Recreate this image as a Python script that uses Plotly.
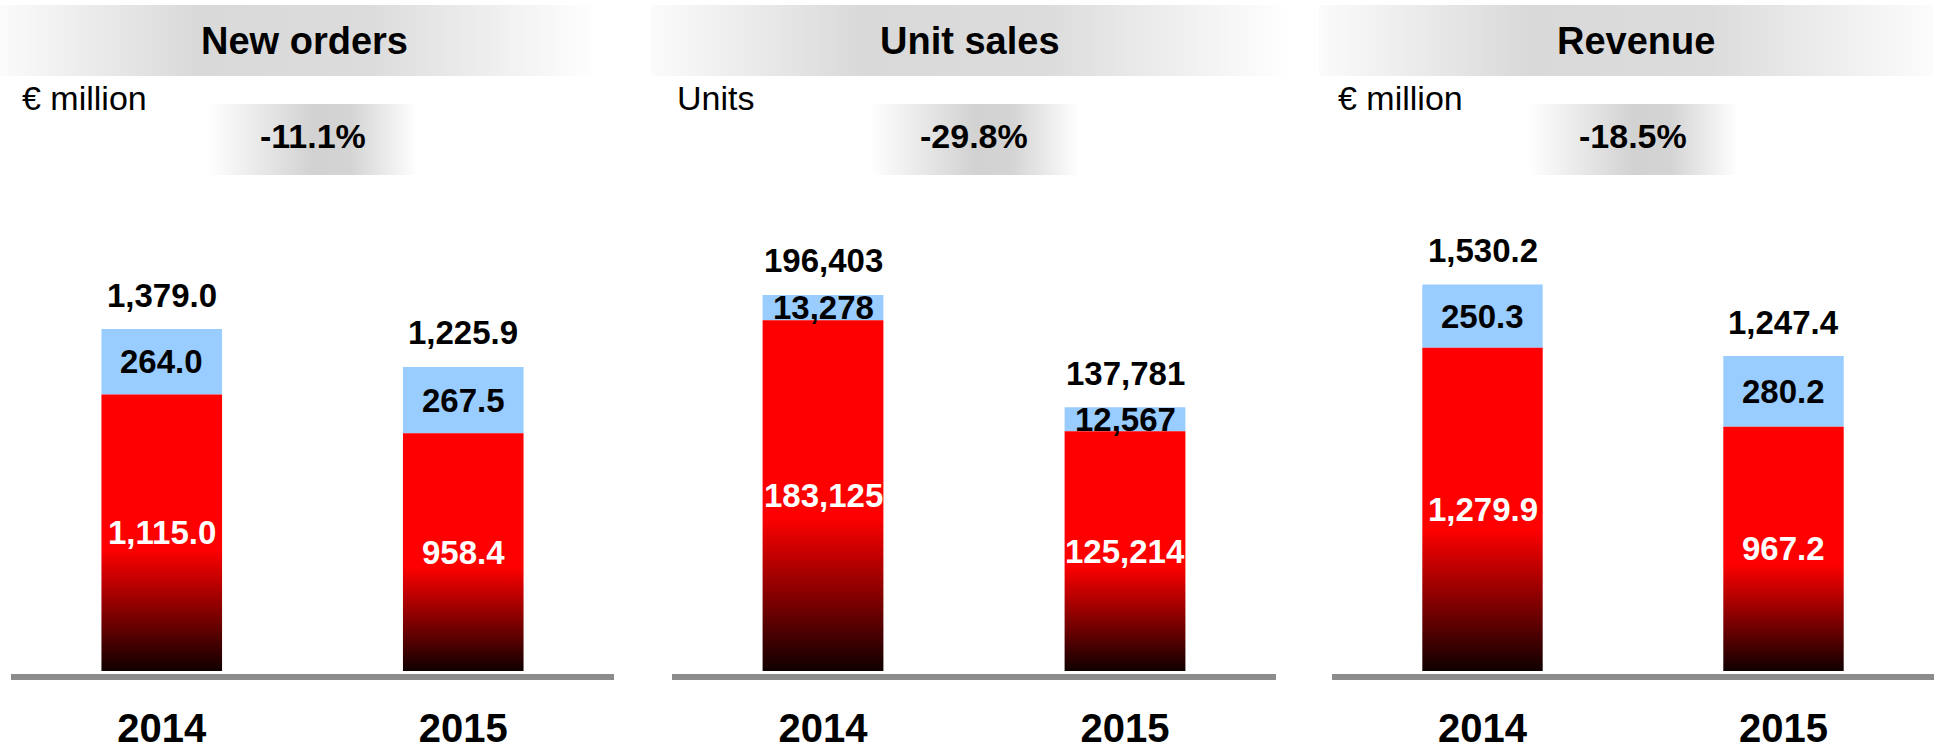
import plotly.graph_objects as go

# ---------------- data ----------------
panels = ["New orders", "Unit sales", "Revenue"]
units = ["€ million", "Units", "€ million"]
changes = ["-11.1%", "-29.8%", "-18.5%"]
years = ["2014", "2015"]

new_orders_red = [1115.0, 958.4]
new_orders_blue = [264.0, 267.5]
unit_sales_red = [183125, 125214]
unit_sales_blue = [13278, 12567]
revenue_red = [1279.9, 967.2]
revenue_blue = [250.3, 280.2]

red_series = [new_orders_red, unit_sales_red, revenue_red]
blue_series = [new_orders_blue, unit_sales_blue, revenue_blue]
decimals = [1, 0, 1]

# ---------------- layout constants (pixels) ----------------
W, H = 1934, 752
AX_X = [(11, 614), (672, 1276), (1332, 1934)]
AXIS_PX = 674      # centre of the grey base line
ZERO_PX = 671      # where value 0 sits
TOP_PX = 150
PX_PER_UNIT = [0.248, 0.001915, 0.2525]
BW = 0.4
HEAD_BANDS = [(0, 598), (651, 1290), (1319, 1953)]
HEAD_Y = (5, 76)
TITLE_X = [304, 970, 1636]
PCT_W = 210
PCT_Y = (104, 175)
PCT_TEXT_Y = 136
UNIT_X = [20, 675, 1336]
UNIT_Y = 98

FONT_N = "Liberation Sans Narrow, Arial Narrow, Liberation Sans, Arial, sans-serif"
RED_SCALE = [[0, "#0f0000"], [0.44, "#ff0000"], [1, "#ff0000"]]
HEAD_SCALE = [[0, "#fbfbfb"], [0.33, "#d9d9d9"], [0.62, "#dcdcdc"], [1, "#ffffff"]]
PCT_SCALE = [[0, "#ffffff"], [0.5, "#d2d2d2"], [0.68, "#d4d4d4"], [1, "#ffffff"]]
VAL_SIZE = 33


def px_x(p):
    return p / W


def px_y(p):
    return 1 - p / H


def fmt(v, d):
    return f"{v:,.{d}f}"


fig = go.Figure()
annotations = []

for k in range(3):
    sfx = "" if k == 0 else str(k + 1)
    xa, ya = "x" + sfx, "y" + sfx
    red = red_series[k]
    blue = blue_series[k]
    for i, r in enumerate(red):
        fig.add_trace(go.Scatter(
            x=[i - BW / 2, i + BW / 2, i + BW / 2, i - BW / 2, i - BW / 2],
            y=[0, 0, r, r, 0],
            mode="lines", fill="toself",
            line=dict(width=0, color="rgba(0,0,0,0)"),
            fillgradient=dict(type="vertical", colorscale=RED_SCALE, start=0, stop=r),
            hoverinfo="skip", showlegend=False, xaxis=xa, yaxis=ya,
        ))
    fig.add_trace(go.Bar(
        x=[0, 1], y=blue, base=red, width=BW,
        marker=dict(color="#99ccff", line=dict(width=0)),
        showlegend=False, xaxis=xa, yaxis=ya,
    ))
    for i in range(2):
        r, b = red[i], blue[i]
        annotations.append(dict(x=i, y=r / 2, xref=xa, yref=ya, text=fmt(r, decimals[k]),
                                showarrow=False,
                                font=dict(family=FONT_N, size=VAL_SIZE, color="white", weight="bold")))
        annotations.append(dict(x=i, y=r + b / 2, xref=xa, yref=ya, text=fmt(b, decimals[k]),
                                showarrow=False,
                                font=dict(family=FONT_N, size=VAL_SIZE, color="black", weight="bold")))
        annotations.append(dict(x=i, y=r + b, xref=xa, yref=ya, text=fmt(r + b, decimals[k]),
                                yshift=34, showarrow=False,
                                font=dict(family=FONT_N, size=VAL_SIZE, color="black", weight="bold")))

    ymin = -(AXIS_PX - ZERO_PX) / PX_PER_UNIT[k]
    ymax = ymin + (AXIS_PX - TOP_PX) / PX_PER_UNIT[k]
    x0, x1 = AX_X[k]
    fig.layout["xaxis" + sfx] = dict(
        domain=[px_x(x0), px_x(x1)], range=[-0.5, 1.5], anchor=ya, automargin=False,
        showgrid=False, zeroline=False, showline=True, linecolor="#8c8c8c", linewidth=6,
        tickvals=[0, 1], ticktext=years, ticks="", ticklabelstandoff=14,
        tickfont=dict(family=FONT_N, size=40, color="black", weight="bold"), fixedrange=True,
    )
    fig.layout["yaxis" + sfx] = dict(
        domain=[px_y(AXIS_PX), px_y(TOP_PX)], range=[ymin, ymax], anchor=xa, automargin=False,
        visible=False, fixedrange=True,
    )

    # header band
    hx0, hx1 = HEAD_BANDS[k]
    fig.add_trace(go.Scatter(
        x=[hx0, hx1, hx1, hx0, hx0], y=[HEAD_Y[0], HEAD_Y[0], HEAD_Y[1], HEAD_Y[1], HEAD_Y[0]],
        mode="lines", fill="toself", line=dict(width=0, color="rgba(0,0,0,0)"),
        fillgradient=dict(type="horizontal", colorscale=HEAD_SCALE, start=hx0, stop=hx1),
        hoverinfo="skip", showlegend=False, xaxis="x4", yaxis="y4",
    ))
    # percent band
    cx = (x0 + x1) / 2
    px0, px1 = cx - PCT_W / 2, cx + PCT_W / 2
    fig.add_trace(go.Scatter(
        x=[px0, px1, px1, px0, px0], y=[PCT_Y[0], PCT_Y[0], PCT_Y[1], PCT_Y[1], PCT_Y[0]],
        mode="lines", fill="toself", line=dict(width=0, color="rgba(0,0,0,0)"),
        fillgradient=dict(type="horizontal", colorscale=PCT_SCALE, start=px0, stop=px1),
        hoverinfo="skip", showlegend=False, xaxis="x4", yaxis="y4",
    ))
    annotations.append(dict(x=px_x(TITLE_X[k]), y=px_y((HEAD_Y[0] + HEAD_Y[1]) / 2), xref="paper", yref="paper",
                            text=panels[k], showarrow=False, xanchor="center", yanchor="middle",
                            font=dict(family=FONT_N, size=38, color="black", weight="bold")))
    annotations.append(dict(x=px_x(cx), y=px_y(PCT_TEXT_Y), xref="paper", yref="paper",
                            text=changes[k], showarrow=False, xanchor="center", yanchor="middle",
                            font=dict(family=FONT_N, size=34, color="black", weight="bold")))
    annotations.append(dict(x=px_x(UNIT_X[k]), y=px_y(UNIT_Y), xref="paper", yref="paper",
                            text=units[k], showarrow=False, xanchor="left", yanchor="middle",
                            font=dict(family=FONT_N, size=34, color="black")))

fig.layout["xaxis4"] = dict(domain=[0, 1], range=[0, W], anchor="y4", visible=False,
                            fixedrange=True, automargin=False)
fig.layout["yaxis4"] = dict(domain=[0, 1], range=[H, 0], anchor="x4", visible=False,
                            fixedrange=True, automargin=False)

fig.update_layout(
    template="none",
    width=W, height=H, margin=dict(l=0, r=0, t=0, b=0, pad=0),
    paper_bgcolor="white", plot_bgcolor="rgba(0,0,0,0)",
    showlegend=False, annotations=annotations,
)

fig.write_html("out.html", config={"displayModeBar": False},
               post_script="document.body.style.margin='0';document.body.style.overflow='hidden';")
